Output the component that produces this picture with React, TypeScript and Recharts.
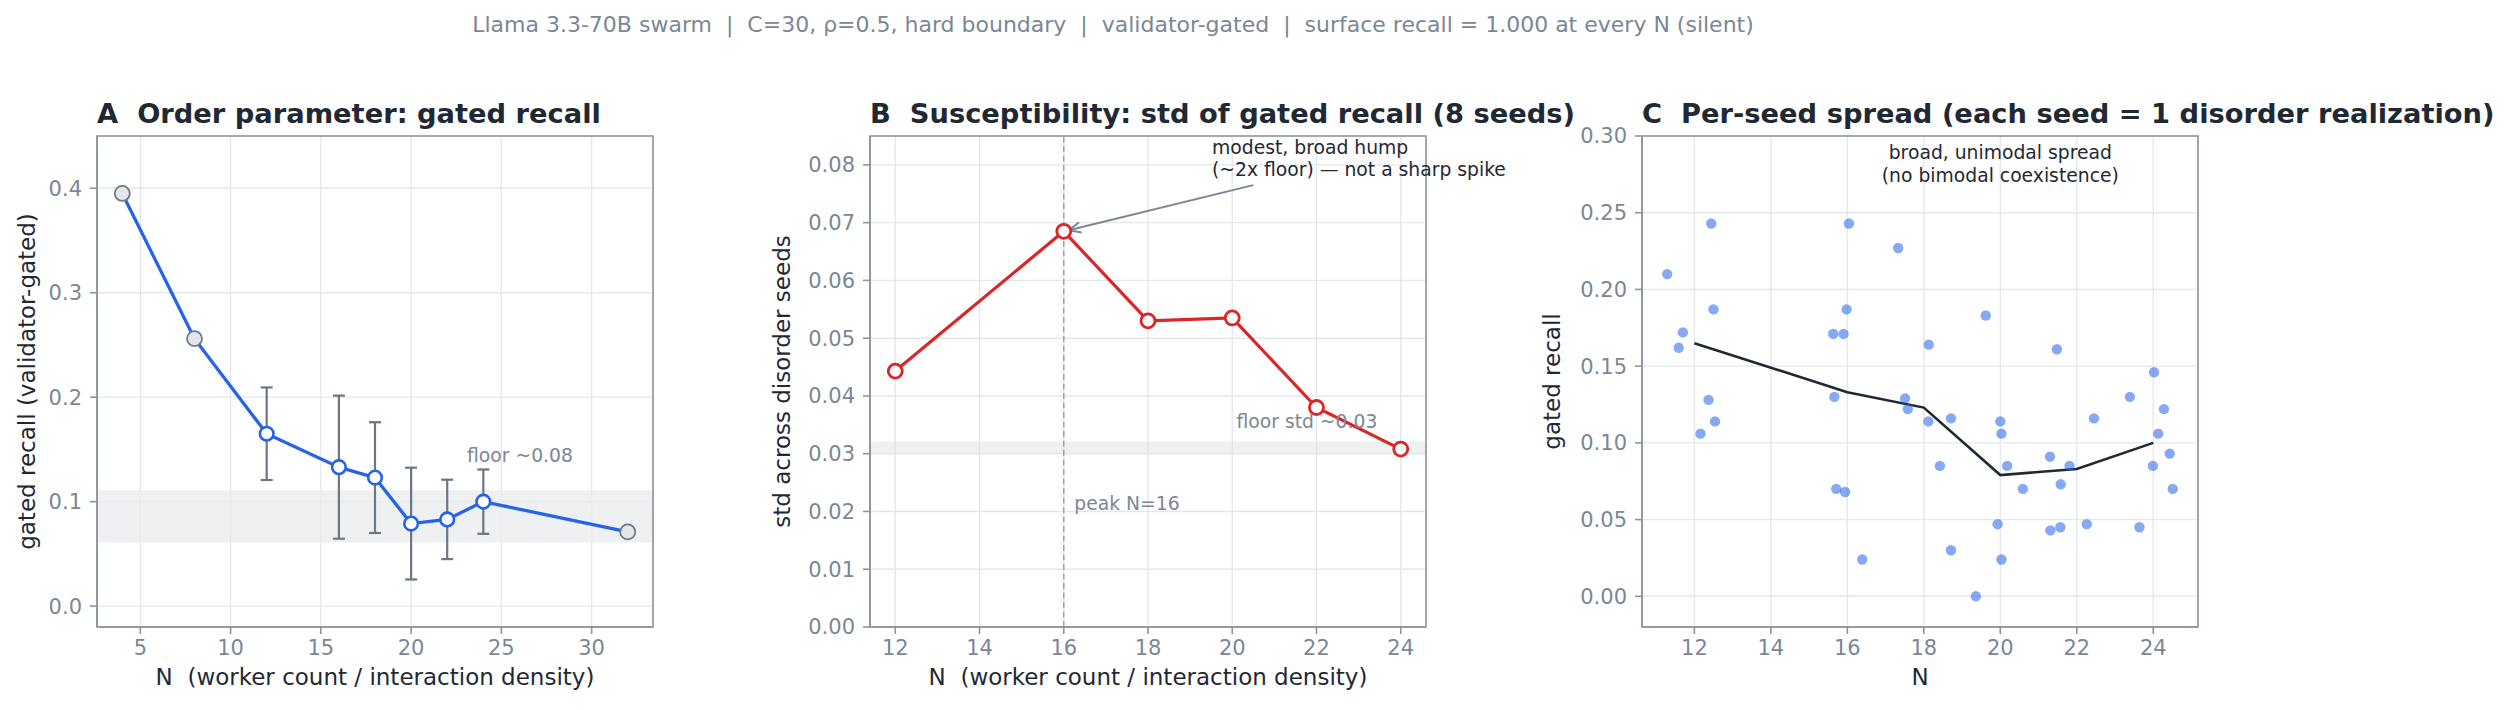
import {
  CartesianGrid,
  ComposedChart,
  ErrorBar,
  Line,
  ReferenceArea,
  ReferenceDot,
  ReferenceLine,
  Scatter,
  XAxis,
  YAxis,
} from "recharts";

/* ---------- data ---------- */

// A: gated recall per N (mean over seeds; std only where the validator gate is active)
const N_ALL = [4, 8, 12, 16, 18, 20, 22, 24, 32];
const GATED_MEAN = [0.395, 0.256, 0.165, 0.133, 0.123, 0.079, 0.083, 0.1, 0.071];
const GATED_STD = [null, null, 0.0443, 0.0685, 0.053, 0.0535, 0.038, 0.0308, null];
const RECALL_FLOOR = [0.061, 0.111];

// B: std of gated recall across 8 disorder seeds
const N_SWEEP = [12, 16, 18, 20, 22, 24];
const SEED_STD = [0.0443, 0.0685, 0.053, 0.0535, 0.038, 0.0308];
const STD_FLOOR = [0.0301, 0.0321];
const PEAK_N = 16;

// C: one point per seed (x is jittered around its N), plus the per-N mean
const SEED_N = [
  11.29, 12.44, 12.5, 11.7, 11.59, 12.37, 12.54, 12.16,
  16.04, 15.98, 15.63, 15.9, 15.66, 15.71, 15.94, 16.39,
  17.33, 18.13, 17.51, 17.58, 18.12, 18.71, 18.42, 18.71,
  19.62, 20.0, 20.03, 20.18, 19.93, 20.03, 19.36, 20.59,
  21.48, 21.3, 21.81, 21.58, 21.31, 21.57, 22.26, 22.45,
  24.02, 23.39, 24.28, 24.13, 24.43, 23.99, 24.51, 23.64,
];
const SEED_RECALL = [
  0.21, 0.243, 0.187, 0.172, 0.162, 0.128, 0.114, 0.106,
  0.243, 0.187, 0.171, 0.171, 0.13, 0.07, 0.068, 0.024,
  0.227, 0.164, 0.129, 0.122, 0.114, 0.116, 0.085, 0.03,
  0.183, 0.114, 0.106, 0.085, 0.047, 0.024, 0.0, 0.07,
  0.161, 0.091, 0.085, 0.073, 0.043, 0.045, 0.047, 0.116,
  0.146, 0.13, 0.122, 0.106, 0.093, 0.085, 0.07, 0.045,
];
const SWEEP_MEAN = [0.165, 0.133, 0.123, 0.079, 0.083, 0.1];

// axes
const A_X_DOMAIN = [2.6, 33.4];
const A_Y_DOMAIN = [-0.02, 0.45];
const A_X_TICKS = [5, 10, 15, 20, 25, 30];
const A_Y_TICKS = [0, 0.1, 0.2, 0.3, 0.4];
const B_X_DOMAIN = [11.4, 24.6];
const B_Y_DOMAIN = [0, 0.085];
const B_X_TICKS = [12, 14, 16, 18, 20, 22, 24];
const B_Y_TICKS = [0, 0.01, 0.02, 0.03, 0.04, 0.05, 0.06, 0.07, 0.08];
const C_X_DOMAIN = [10.63, 25.17];
const C_Y_DOMAIN = [-0.02, 0.3];
const C_X_TICKS = [12, 14, 16, 18, 20, 22, 24];
const C_Y_TICKS = [0, 0.05, 0.1, 0.15, 0.2, 0.25, 0.3];

const SUPTITLE =
  "Llama 3.3-70B swarm  |  C=30, ρ=0.5, hard boundary  |  validator-gated  |  surface recall = 1.000 at every N (silent)";
const N_LABEL = "N  (worker count / interaction density)";

/* ---------- look ---------- */

const FONT = "'DejaVu Sans', sans-serif";
const INK = "#1f2933";
const MUTED = "#7b8794";
const SPINE = "#8b95a1";
const GRID = "#e4e8ed";
const BLUE = "#2563eb";
const RED = "#dc2626";
const ERR = "#6b7785";

const FIG_W = 2513;
const FIG_H = 710;
const PLOT_TOP = 136;
const X_AXIS_H = 83;

const xAxisStyle = {
  type: "number" as const,
  dataKey: "n",
  allowDataOverflow: true,
  height: X_AXIS_H,
  tickSize: 7,
  tickMargin: 6,
  interval: 0 as const,
  tick: { fill: MUTED, fontSize: 21, fontFamily: FONT },
  tickLine: { stroke: SPINE, strokeWidth: 1.6 },
  axisLine: { stroke: SPINE, strokeWidth: 1.6 },
};

const yAxisStyle = {
  type: "number" as const,
  allowDataOverflow: true,
  tickSize: 7,
  tickMargin: 8,
  interval: 0 as const,
  tick: { fill: MUTED, fontSize: 21, fontFamily: FONT },
  tickLine: { stroke: SPINE, strokeWidth: 1.6 },
  axisLine: { stroke: SPINE, strokeWidth: 1.6 },
};

// axis titles: drawn from the axis viewBox handed over by recharts
const xTitle = (text: string) => (props: any) => {
  const vb = props.viewBox;
  return (
    <text
      x={vb.x + vb.width / 2}
      y={vb.y + 58}
      textAnchor="middle"
      fontSize={23}
      fontFamily={FONT}
      fill={INK}
      style={{ whiteSpace: "pre" }}
    >
      {text}
    </text>
  );
};

const yTitle = (text: string, gap: number) => (props: any) => {
  const vb = props.viewBox;
  const cx = vb.x + vb.width - gap;
  const cy = vb.y + vb.height / 2;
  return (
    <text
      x={cx}
      y={cy}
      transform={`rotate(-90 ${cx} ${cy})`}
      textAnchor="middle"
      dominantBaseline="central"
      fontSize={23}
      fontFamily={FONT}
      fill={INK}
    >
      {text}
    </text>
  );
};

const note =
  (lines: string[], color: string, anchor: "start" | "middle" = "start") =>
  (props: any) => {
    const { x, y } = props.viewBox;
    return (
      <text x={x} y={y} textAnchor={anchor} fontSize={18.75} fontFamily={FONT} fill={color}>
        {lines.map((l, i) => (
          <tspan key={i} x={x} dy={i === 0 ? 0 : 22.4}>
            {l}
          </tspan>
        ))}
      </text>
    );
  };

function gatedDot(props: any) {
  const { cx, cy, payload, index } = props;
  const gated = payload.std != null;
  return (
    <circle
      key={`gd-${index}`}
      cx={cx}
      cy={cy}
      r={gated ? 6.8 : 7.5}
      fill={gated ? "#ffffff" : "#e3e6ea"}
      stroke={gated ? BLUE : "#6f7a87"}
      strokeWidth={gated ? 2.6 : 1.8}
    />
  );
}

function arrowShape(props: any) {
  const { x1, y1, x2, y2 } = props;
  const ang = Math.atan2(y2 - y1, x2 - x1);
  const len = 13;
  const spread = 0.42;
  const a = [x2 - len * Math.cos(ang - spread), y2 - len * Math.sin(ang - spread)];
  const b = [x2 - len * Math.cos(ang + spread), y2 - len * Math.sin(ang + spread)];
  return (
    <g stroke={MUTED} strokeWidth={2} fill="none">
      <line x1={x1} y1={y1} x2={x2} y2={y2} />
      <polyline points={`${a[0]},${a[1]} ${x2},${y2} ${b[0]},${b[1]}`} />
    </g>
  );
}

function seedDot(props: any) {
  return <circle cx={props.cx} cy={props.cy} r={5.2} fill={BLUE} fillOpacity={0.55} />;
}

export default function App() {
  const rowsA = N_ALL.map((n, i) => ({ n, mean: GATED_MEAN[i], std: GATED_STD[i] }));
  const rowsB = N_SWEEP.map((n, i) => ({ n, std: SEED_STD[i] }));
  const seeds = SEED_N.map((n, i) => ({ n, recall: SEED_RECALL[i] }));
  const meanRows = N_SWEEP.map((n, i) => ({ n, mean: SWEEP_MEAN[i] }));

  return (
    <div
      style={{
        position: "absolute",
        left: 0,
        top: 0,
        width: FIG_W,
        height: FIG_H,
        background: "#ffffff",
        fontFamily: FONT,
        overflow: "hidden",
      }}
    >
      {/* A */}
      <div style={{ position: "absolute", left: 0, top: 0 }}>
        <ComposedChart
          width={740}
          height={FIG_H}
          data={rowsA}
          margin={{ top: PLOT_TOP, right: 87, bottom: 0, left: 7 }}
        >
          <CartesianGrid stroke={GRID} strokeWidth={1.4} />
          <ReferenceArea
            y1={RECALL_FLOOR[0]}
            y2={RECALL_FLOOR[1]}
            fill="#e8ebee"
            fillOpacity={0.75}
            stroke="none"
            ifOverflow="visible"
          />
          <XAxis {...xAxisStyle} domain={A_X_DOMAIN} ticks={A_X_TICKS} label={xTitle(N_LABEL)} />
          <YAxis
            {...yAxisStyle}
            domain={A_Y_DOMAIN}
            ticks={A_Y_TICKS}
            width={90}
            tickFormatter={(v: number) => v.toFixed(1)}
            label={yTitle("gated recall (validator-gated)", 70)}
          />
          <ReferenceDot
            x={23.1}
            y={0.1378}
            r={0}
            fill="none"
            stroke="none"
            label={note(["floor ~0.08"], MUTED)}
          />
          <Line
            dataKey="mean"
            stroke={BLUE}
            strokeWidth={3.3}
            dot={gatedDot}
            activeDot={false}
            isAnimationActive={false}
          >
            <ErrorBar dataKey="std" width={6} stroke={ERR} strokeWidth={2.2} direction="y" />
          </Line>
          <ReferenceArea
            x1={A_X_DOMAIN[0]}
            x2={A_X_DOMAIN[1]}
            y1={A_Y_DOMAIN[0]}
            y2={A_Y_DOMAIN[1]}
            fill="none"
            stroke={SPINE}
            strokeWidth={1.6}
            ifOverflow="visible"
          />
        </ComposedChart>
      </div>

      {/* B (wider than its plot so the annotation can run past the right spine) */}
      <div style={{ position: "absolute", left: 740, top: 0 }}>
        <ComposedChart
          width={800}
          height={FIG_H}
          data={rowsB}
          margin={{ top: PLOT_TOP, right: 114, bottom: 0, left: 20 }}
        >
          <CartesianGrid stroke={GRID} strokeWidth={1.4} />
          <ReferenceArea
            y1={STD_FLOOR[0]}
            y2={STD_FLOOR[1]}
            fill="#dde1e6"
            stroke="none"
            ifOverflow="visible"
          />
          <ReferenceLine x={PEAK_N} stroke="#9aa3ad" strokeWidth={1.5} strokeDasharray="6 3.5" />
          <XAxis {...xAxisStyle} domain={B_X_DOMAIN} ticks={B_X_TICKS} label={xTitle(N_LABEL)} />
          <YAxis
            {...yAxisStyle}
            domain={B_Y_DOMAIN}
            ticks={B_Y_TICKS}
            width={110}
            tickFormatter={(v: number) => v.toFixed(2)}
            label={yTitle("std across disorder seeds", 88)}
          />
          <Line
            dataKey="std"
            stroke={RED}
            strokeWidth={3.2}
            dot={{ r: 7, fill: "#ffffff", stroke: RED, strokeWidth: 2.8 }}
            activeDot={false}
            isAnimationActive={false}
          />
          <ReferenceLine
            segment={[
              { x: 20.5, y: 0.0765 },
              { x: 16.12, y: 0.0687 },
            ]}
            shape={arrowShape}
          />
          <ReferenceDot
            x={19.52}
            y={0.0819}
            r={0}
            fill="none"
            stroke="none"
            label={note(["modest, broad hump", "(~2x floor) — not a sharp spike"], INK)}
          />
          <ReferenceDot
            x={20.1}
            y={0.0344}
            r={0}
            fill="none"
            stroke="none"
            label={note(["floor std ~0.03"], MUTED)}
          />
          <ReferenceDot
            x={16.25}
            y={0.0202}
            r={0}
            fill="none"
            stroke="none"
            label={note(["peak N=16"], MUTED)}
          />
          <ReferenceArea
            x1={B_X_DOMAIN[0]}
            x2={B_X_DOMAIN[1]}
            y1={B_Y_DOMAIN[0]}
            y2={B_Y_DOMAIN[1]}
            fill="none"
            stroke={SPINE}
            strokeWidth={1.6}
            ifOverflow="visible"
          />
        </ComposedChart>
      </div>

      {/* C */}
      <div style={{ position: "absolute", left: 1500, top: 0 }}>
        <ComposedChart
          width={1013}
          height={FIG_H}
          margin={{ top: PLOT_TOP, right: 315, bottom: 0, left: 32 }}
        >
          <CartesianGrid stroke={GRID} strokeWidth={1.4} />
          <XAxis {...xAxisStyle} domain={C_X_DOMAIN} ticks={C_X_TICKS} label={xTitle("N")} />
          <YAxis
            {...yAxisStyle}
            dataKey="recall"
            domain={C_Y_DOMAIN}
            ticks={C_Y_TICKS}
            width={110}
            tickFormatter={(v: number) => v.toFixed(2)}
            label={yTitle("gated recall", 90)}
          />
          <Scatter data={seeds} dataKey="recall" shape={seedDot} isAnimationActive={false} />
          <Line
            data={meanRows}
            dataKey="mean"
            stroke={INK}
            strokeWidth={2.6}
            dot={false}
            activeDot={false}
            isAnimationActive={false}
          />
          <ReferenceDot
            x={20}
            y={0.2849}
            r={0}
            fill="none"
            stroke="none"
            label={note(["broad, unimodal spread", "(no bimodal coexistence)"], INK, "middle")}
          />
          <ReferenceArea
            x1={C_X_DOMAIN[0]}
            x2={C_X_DOMAIN[1]}
            y1={C_Y_DOMAIN[0]}
            y2={C_Y_DOMAIN[1]}
            fill="none"
            stroke={SPINE}
            strokeWidth={1.6}
            ifOverflow="visible"
          />
        </ComposedChart>
      </div>

      {/* titles */}
      <svg
        width={FIG_W}
        height={134}
        style={{ position: "absolute", left: 0, top: 0, pointerEvents: "none" }}
      >
        <text
          x={1113}
          y={32}
          textAnchor="middle"
          fontSize={22}
          fontFamily={FONT}
          fill={MUTED}
          style={{ whiteSpace: "pre" }}
        >
          {SUPTITLE}
        </text>
        {[
          { x: 97, t: "A  Order parameter: gated recall" },
          { x: 870, t: "B  Susceptibility: std of gated recall (8 seeds)" },
          { x: 1642, t: "C  Per-seed spread (each seed = 1 disorder realization)" },
        ].map((h) => (
          <text
            key={h.t}
            x={h.x}
            y={122.5}
            fontSize={27.3}
            fontWeight="bold"
            fontFamily={FONT}
            fill={INK}
            style={{ whiteSpace: "pre" }}
          >
            {h.t}
          </text>
        ))}
      </svg>
    </div>
  );
}
